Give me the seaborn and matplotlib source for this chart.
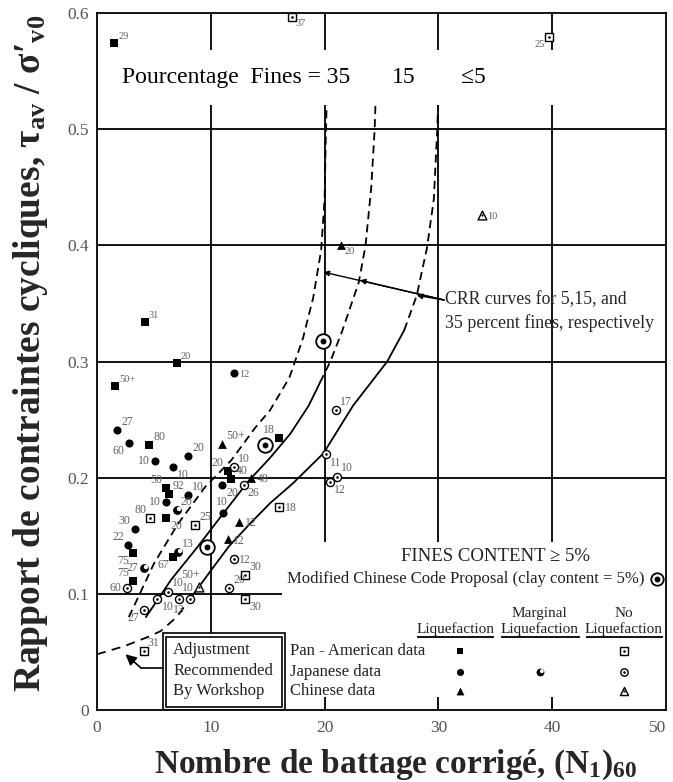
import matplotlib
matplotlib.use("Agg")
import matplotlib.pyplot as plt
import seaborn as sns
import pandas as pd
from matplotlib.patches import Rectangle
from matplotlib.markers import MarkerStyle
from matplotlib.transforms import Affine2D

# ---------------- data ----------------
# Pan-American data, liquefaction (filled squares)
pa_liq_x = [1.5, 4.2, 7.0, 1.6, 4.6, 6.1, 6.3, 6.1, 3.2, 3.2, 11.5, 11.8, 16.0, 6.7]
pa_liq_y = [0.574, 0.334, 0.299, 0.279, 0.228, 0.191, 0.186, 0.165, 0.135, 0.111, 0.206, 0.199, 0.234, 0.132]
pa_liq_lab = ["29", "31", "20", "50+", "80", "50", "92", "20", "75", "75", "20", "40", "18", "67"]
pa_liq_pos = ["ur", "ur", "ur", "ur", "ur", "ul", "ur", "lr", "ll", "ul", "ul", "ur", "ul", "ll"]

# Pan-American data, no liquefaction (open squares)
pa_no_x = [17.1, 39.7, 4.7, 8.6, 16.0, 13.0, 13.0, 4.1]
pa_no_y = [0.597, 0.579, 0.165, 0.159, 0.175, 0.116, 0.096, 0.051]
pa_no_lab = ["37", "25", "80", "25", "18", "30", "30", "31"]
pa_no_pos = ["lr", "ll", "ul", "ur", "r", "ur", "lr", "ur"]

# Japanese data, liquefaction (filled circles)
jp_liq_x = [12.0, 1.75, 2.8, 8.0, 5.1, 6.7, 6.1, 8.0, 3.3, 2.75, 11.0, 11.1]
jp_liq_y = [0.290, 0.241, 0.230, 0.219, 0.214, 0.209, 0.179, 0.185, 0.156, 0.142, 0.194, 0.170]
jp_liq_lab = ["12", "27", "60", "20", "10", "10", "10", "10", "30", "22", "20", "10"]
jp_liq_pos = ["r", "ur", "ll", "ur", "l", "lr", "l", "ur", "ul", "ul", "lr", "a"]

# Japanese data, marginal liquefaction
jp_marg_x = [7.0, 7.1, 4.1]
jp_marg_y = [0.172, 0.136, 0.122]
jp_marg_lab = ["20", "13", "27"]
jp_marg_pos = ["ur", "ur", "l"]

# Japanese data, no liquefaction (open circles)
jp_no_x = [2.65, 6.2, 5.3, 7.2, 8.15, 4.1, 12.0, 11.6, 12.0, 12.9, 21.0, 20.1, 21.1, 20.5]
jp_no_y = [0.105, 0.102, 0.096, 0.096, 0.096, 0.086, 0.130, 0.105, 0.209, 0.194, 0.258, 0.220, 0.201, 0.196]
jp_no_lab = ["60", "10", "10", "13", "10", "27", "12", "20", "10", "26", "17", "11", "10", "12"]
jp_no_pos = ["l", "ur", "lr", "b", "a", "ll", "r", "ur", "ur", "lr", "ur", "lr", "ur", "lr"]

# Chinese data, liquefaction (filled triangles)
cn_liq_x = [21.4, 11.0, 13.55, 12.5, 11.5]
cn_liq_y = [0.400, 0.229, 0.200, 0.162, 0.147]
cn_liq_lab = ["20", "50+", "48", "12", "12"]
cn_liq_pos = ["lr", "ur", "r", "r", "r"]

# Chinese data, no liquefaction (open triangles)
cn_no_x = [33.8, 9.0]
cn_no_y = [0.426, 0.106]
cn_no_lab = ["10", "50+"]
cn_no_pos = ["r", "ula"]

# Modified Chinese Code Proposal (clay content = 5%)
prop_x = [9.7, 14.8, 19.9]
prop_y = [0.140, 0.228, 0.318]

# CRR curves
crr5_adj_x = [0.0, 2.4, 4.5, 5.6, 7.0, 8.2]
crr5_adj_y = [0.048, 0.055, 0.063, 0.068, 0.080, 0.096]
crr5_x = [8.2, 10.0, 11.6, 13.5, 15.2, 17.2, 19.9, 22.5, 25.5, 27.0]
crr5_y = [0.096, 0.120, 0.141, 0.161, 0.178, 0.195, 0.221, 0.262, 0.300, 0.327]
crr5_up_x = [27.0, 28.1, 29.0, 29.6, 29.9, 30.0]
crr5_up_y = [0.327, 0.357, 0.398, 0.440, 0.500, 0.530]

crr15_x = [4.3, 6.5, 8.8, 11.0, 13.3, 15.2, 17.0, 18.6, 19.6]
crr15_y = [0.080, 0.112, 0.140, 0.168, 0.197, 0.217, 0.238, 0.262, 0.282]
crr15_up_x = [19.6, 20.5, 21.5, 23.0, 23.6, 24.1, 24.4, 24.5]
crr15_up_y = [0.282, 0.300, 0.325, 0.368, 0.400, 0.450, 0.500, 0.530]

crr35_x = [2.8, 5.0, 7.1, 9.5, 11.8, 13.9, 15.2, 16.9, 18.1, 19.0, 19.7, 20.0, 20.1, 20.2]
crr35_y = [0.080, 0.126, 0.160, 0.192, 0.215, 0.243, 0.258, 0.286, 0.320, 0.355, 0.396, 0.440, 0.490, 0.530]

x_ticks = [0, 10, 20, 30, 40, 50]
x_ticklabels = ["0", "10", "20", "30", "40", "50"]
y_ticks = [0, 0.1, 0.2, 0.3, 0.4, 0.5, 0.6]
y_ticklabels = ["0", "0.1", "0.2", "0.3", "0.4", "0.5", "0.6"]

# ---------------- style ----------------
sns.set_theme(style="white")
plt.rcParams["font.family"] = ["Liberation Serif", "DejaVu Serif"]
plt.rcParams["mathtext.fontset"] = "custom"
plt.rcParams["mathtext.rm"] = "Liberation Serif"
plt.rcParams["mathtext.bf"] = "Liberation Serif:bold"
plt.rcParams["mathtext.it"] = "Liberation Serif:italic"

fig = plt.figure(figsize=(6.73, 7.82), dpi=100)
ax = fig.add_axes([0.1441, 0.092, 0.8455, 0.8913])
ax.set_xlim(0, 50)
ax.set_ylim(0, 0.6)
for sp in ax.spines.values():
    sp.set_color("black")
    sp.set_linewidth(1.3)
    sp.set_zorder(10)

ax.set_xticks(x_ticks)
ax.set_xticklabels(x_ticklabels)
ax.set_yticks(y_ticks)
ax.set_yticklabels(y_ticklabels)
ax.tick_params(axis="both", length=0, labelsize=12.5, labelcolor="#555555")
ax.tick_params(axis="x", pad=7)
ax.tick_params(axis="y", pad=6)
ax.get_xticklabels()[-1].set_horizontalalignment("right")

GL = dict(color="black", lw=1.3, zorder=1)
# grid (partial, as in the original figure)
ax.hlines([0.2, 0.3, 0.4, 0.5], 0, 50, **GL)
ax.hlines([0.1], 0, 16.3, **GL)
ax.vlines([10], 0.066, 0.6, **GL)
ax.vlines([20, 30, 40], 0.145, 0.6, **GL)
ax.vlines([20, 30, 40], 0, 0.011, **GL)

# ---------------- CRR curves ----------------
LW = 1.3
dash = (0, (4.5, 2.8))
sns.lineplot(x=crr5_adj_x, y=crr5_adj_y, sort=False, estimator=None, color="black", lw=LW, linestyle=(0, (5, 3.5)), ax=ax, zorder=2)
sns.lineplot(x=crr5_x, y=crr5_y, sort=False, estimator=None, color="black", lw=LW, ax=ax, zorder=2)
sns.lineplot(x=crr5_up_x, y=crr5_up_y, sort=False, estimator=None, color="black", lw=LW, linestyle=dash, ax=ax, zorder=2)
sns.lineplot(x=crr15_x, y=crr15_y, sort=False, estimator=None, color="black", lw=LW, ax=ax, zorder=2)
sns.lineplot(x=crr15_up_x, y=crr15_up_y, sort=False, estimator=None, color="black", lw=LW, linestyle=dash, ax=ax, zorder=2)
sns.lineplot(x=crr35_x, y=crr35_y, sort=False, estimator=None, color="black", lw=LW, linestyle=dash, ax=ax, zorder=2)

# ---------------- markers ----------------
def pts(x, y, marker, s, face, edge="black", lw=0.0, z=6):
    sns.scatterplot(x=x, y=y, marker=marker, s=s, color=face, edgecolor=edge,
                    linewidth=lw, ax=ax, zorder=z, legend=False)

def dot(x, y, s=3.5):
    pts(x, y, "o", s, "black", lw=0, z=7)

marg_hole = MarkerStyle("o", transform=Affine2D().scale(0.5).translate(0.17, 0.17))

def draw_liq_sq(x, y, s=30):
    pts(x, y, "s", s, "black", lw=0)

def draw_liq_ci(x, y, s=34):
    pts(x, y, "o", s, "black", lw=0)

def draw_liq_tr(x, y, s=40):
    pts(x, y, "^", s, "black", lw=0)

def draw_no_sq(x, y, s=30):
    pts(x, y, "s", s, "white", lw=1.0)
    dot(x, y)

def draw_no_ci(x, y, s=34):
    pts(x, y, "o", s, "white", lw=1.0)
    dot(x, y)

def draw_no_tr(x, y, s=40):
    pts(x, y, "^", s, "white", lw=1.0)
    dot(x, y, 2.5)

def draw_marg(x, y, s=40):
    pts(x, y, "o", s, "black", lw=0)
    pts(x, y, marg_hole, s, "white", lw=0, z=7)

def draw_prop(x, y, s=110):
    pts(x, y, "o", s, "white", lw=1.3)
    pts(x, y, "o", 18, "black", lw=0, z=7)

draw_liq_sq(pa_liq_x, pa_liq_y)
draw_no_sq(pa_no_x, pa_no_y)
draw_liq_ci(jp_liq_x, jp_liq_y)
draw_marg(jp_marg_x, jp_marg_y)
draw_no_ci(jp_no_x, jp_no_y)
draw_liq_tr(cn_liq_x, cn_liq_y)
draw_no_tr(cn_no_x, cn_no_y)
draw_prop(prop_x, prop_y)

# ---------------- point labels ----------------
OFF = {
    "ur": ((3, 1.5), "left", "bottom"),
    "r": ((4, -1), "left", "center"),
    "lr": ((3, -1.5), "left", "top"),
    "l": ((-4, 0), "right", "center"),
    "ul": ((-3, 1.5), "right", "bottom"),
    "ll": ((-3, -1.5), "right", "top"),
    "b": ((0, -4), "center", "top"),
    "a": ((-1, 7.5), "center", "center"),
    "ula": ((-6.5, 8.5), "center", "center"),
}

def labels(xs, ys, labs, poss):
    for x, y, t, p in zip(xs, ys, labs, poss):
        off, ha, va = OFF[p]
        fs = 7.5 if y > 0.27 else 8.5
        ax.annotate(t, (x, y), xytext=off, textcoords="offset points", ha=ha, va=va,
                    fontsize=fs, color="#606060", zorder=8)

labels(pa_liq_x, pa_liq_y, pa_liq_lab, pa_liq_pos)
labels(pa_no_x, pa_no_y, pa_no_lab, pa_no_pos)
labels(jp_liq_x, jp_liq_y, jp_liq_lab, jp_liq_pos)
labels(jp_marg_x, jp_marg_y, jp_marg_lab, jp_marg_pos)
labels(jp_no_x, jp_no_y, jp_no_lab, jp_no_pos)
labels(cn_liq_x, cn_liq_y, cn_liq_lab, cn_liq_pos)
labels(cn_no_x, cn_no_y, cn_no_lab, cn_no_pos)

# ---------------- "Pourcentage Fines" banner ----------------
ax.add_patch(Rectangle((1.5, 0.521), 38.65, 0.047, facecolor="white", edgecolor="none", zorder=4))
ax.text(2.2, 0.5445, "Pourcentage  Fines = 35", fontsize=17, ha="left", va="center", zorder=5, color="black")
ax.text(25.9, 0.5445, "15", fontsize=17, ha="left", va="center", zorder=5, color="black")
ax.text(32.0, 0.5445, "≤5", fontsize=17, ha="left", va="center", zorder=5, color="black")

# ---------------- CRR annotation ----------------
start = (30.5, 0.353)
for tip in [(28.1, 0.357), (23.1, 0.370), (19.9, 0.377)]:
    ax.annotate("", xy=tip, xytext=start,
                arrowprops=dict(arrowstyle="-|>", color="black", lw=1.0, mutation_scale=8,
                                shrinkA=0, shrinkB=0), zorder=6)
ax.text(30.6, 0.353, "CRR curves for 5,15, and", fontsize=12.8, ha="left", va="center", zorder=6)
ax.text(30.6, 0.333, "35 percent fines, respectively", fontsize=12.8, ha="left", va="center", zorder=6)

# ---------------- Adjustment box ----------------
ax.add_patch(Rectangle((5.8, 0.0), 10.7, 0.066, facecolor="white", edgecolor="black", lw=1.2, zorder=4))
ax.add_patch(Rectangle((6.08, 0.0028), 10.14, 0.0604, facecolor="none", edgecolor="black", lw=1.2, zorder=5))
for yy, t in zip([0.052, 0.034, 0.016], ["Adjustment", "Recommended", "By Workshop"]):
    ax.text(6.7, yy, t, fontsize=12, ha="left", va="center", zorder=6, color="#222222")
ax.plot([5.8, 3.9], [0.036, 0.036], color="black", lw=1.2, zorder=6)
ax.annotate("", xy=(2.5, 0.048), xytext=(3.9, 0.036),
            arrowprops=dict(arrowstyle="-|>", color="black", lw=1.2, mutation_scale=16,
                            shrinkA=0, shrinkB=0), zorder=6)

# ---------------- legend block ----------------
ax.text(35.0, 0.132, "FINES CONTENT ≥ 5%", fontsize=13.5, ha="center", va="center", zorder=6, color="#222222")
ax.text(48.1, 0.1126, "Modified Chinese Code Proposal (clay content = 5%)", fontsize=12,
        ha="right", va="center", zorder=6, color="#222222")
draw_prop([49.2], [0.1126], s=80)

ax.text(31.5, 0.070, "Liquefaction", fontsize=11, ha="center", va="center", color="#222222")
ax.text(38.9, 0.083, "Marginal", fontsize=11, ha="center", va="center", color="#222222")
ax.text(38.9, 0.070, "Liquefaction", fontsize=11, ha="center", va="center", color="#222222")
ax.text(46.3, 0.083, "No", fontsize=11, ha="center", va="center", color="#222222")
ax.text(46.3, 0.070, "Liquefaction", fontsize=11, ha="center", va="center", color="#222222")
ax.hlines([0.0625, 0.0625, 0.0625], [28.1, 35.5, 43.0], [34.9, 42.4, 49.7], color="black", lw=1.3)

for yy, t in zip([0.051, 0.033, 0.016], ["Pan - American data", "Japanese data", "Chinese data"]):
    ax.text(17.0, yy, t, fontsize=12, ha="left", va="center", color="#222222")

draw_liq_sq([31.9], [0.051], s=24)
draw_liq_ci([31.9], [0.033], s=26)
draw_liq_tr([31.9], [0.016], s=32)
draw_marg([38.9], [0.033], s=32)
draw_no_sq([46.3], [0.051], s=26)
draw_no_ci([46.3], [0.033], s=28)
draw_no_tr([46.3], [0.016], s=34)

# ---------------- axis titles ----------------
fig.text(0.588, 0.022, r"Nombre de battage corrigé, (N$_{\mathbf{1}}$)$_{\mathbf{60}}$",
         fontsize=24, fontweight="bold", ha="center", va="center")
fig.text(0.045, 0.548, r"Rapport de contraintes cycliques, τ$_{\mathbf{av}}$ / σ′$_{\mathbf{v0}}$",
         fontsize=27, fontweight="bold", ha="center", va="center", rotation=90)

fig.savefig("out.png", dpi=100)
